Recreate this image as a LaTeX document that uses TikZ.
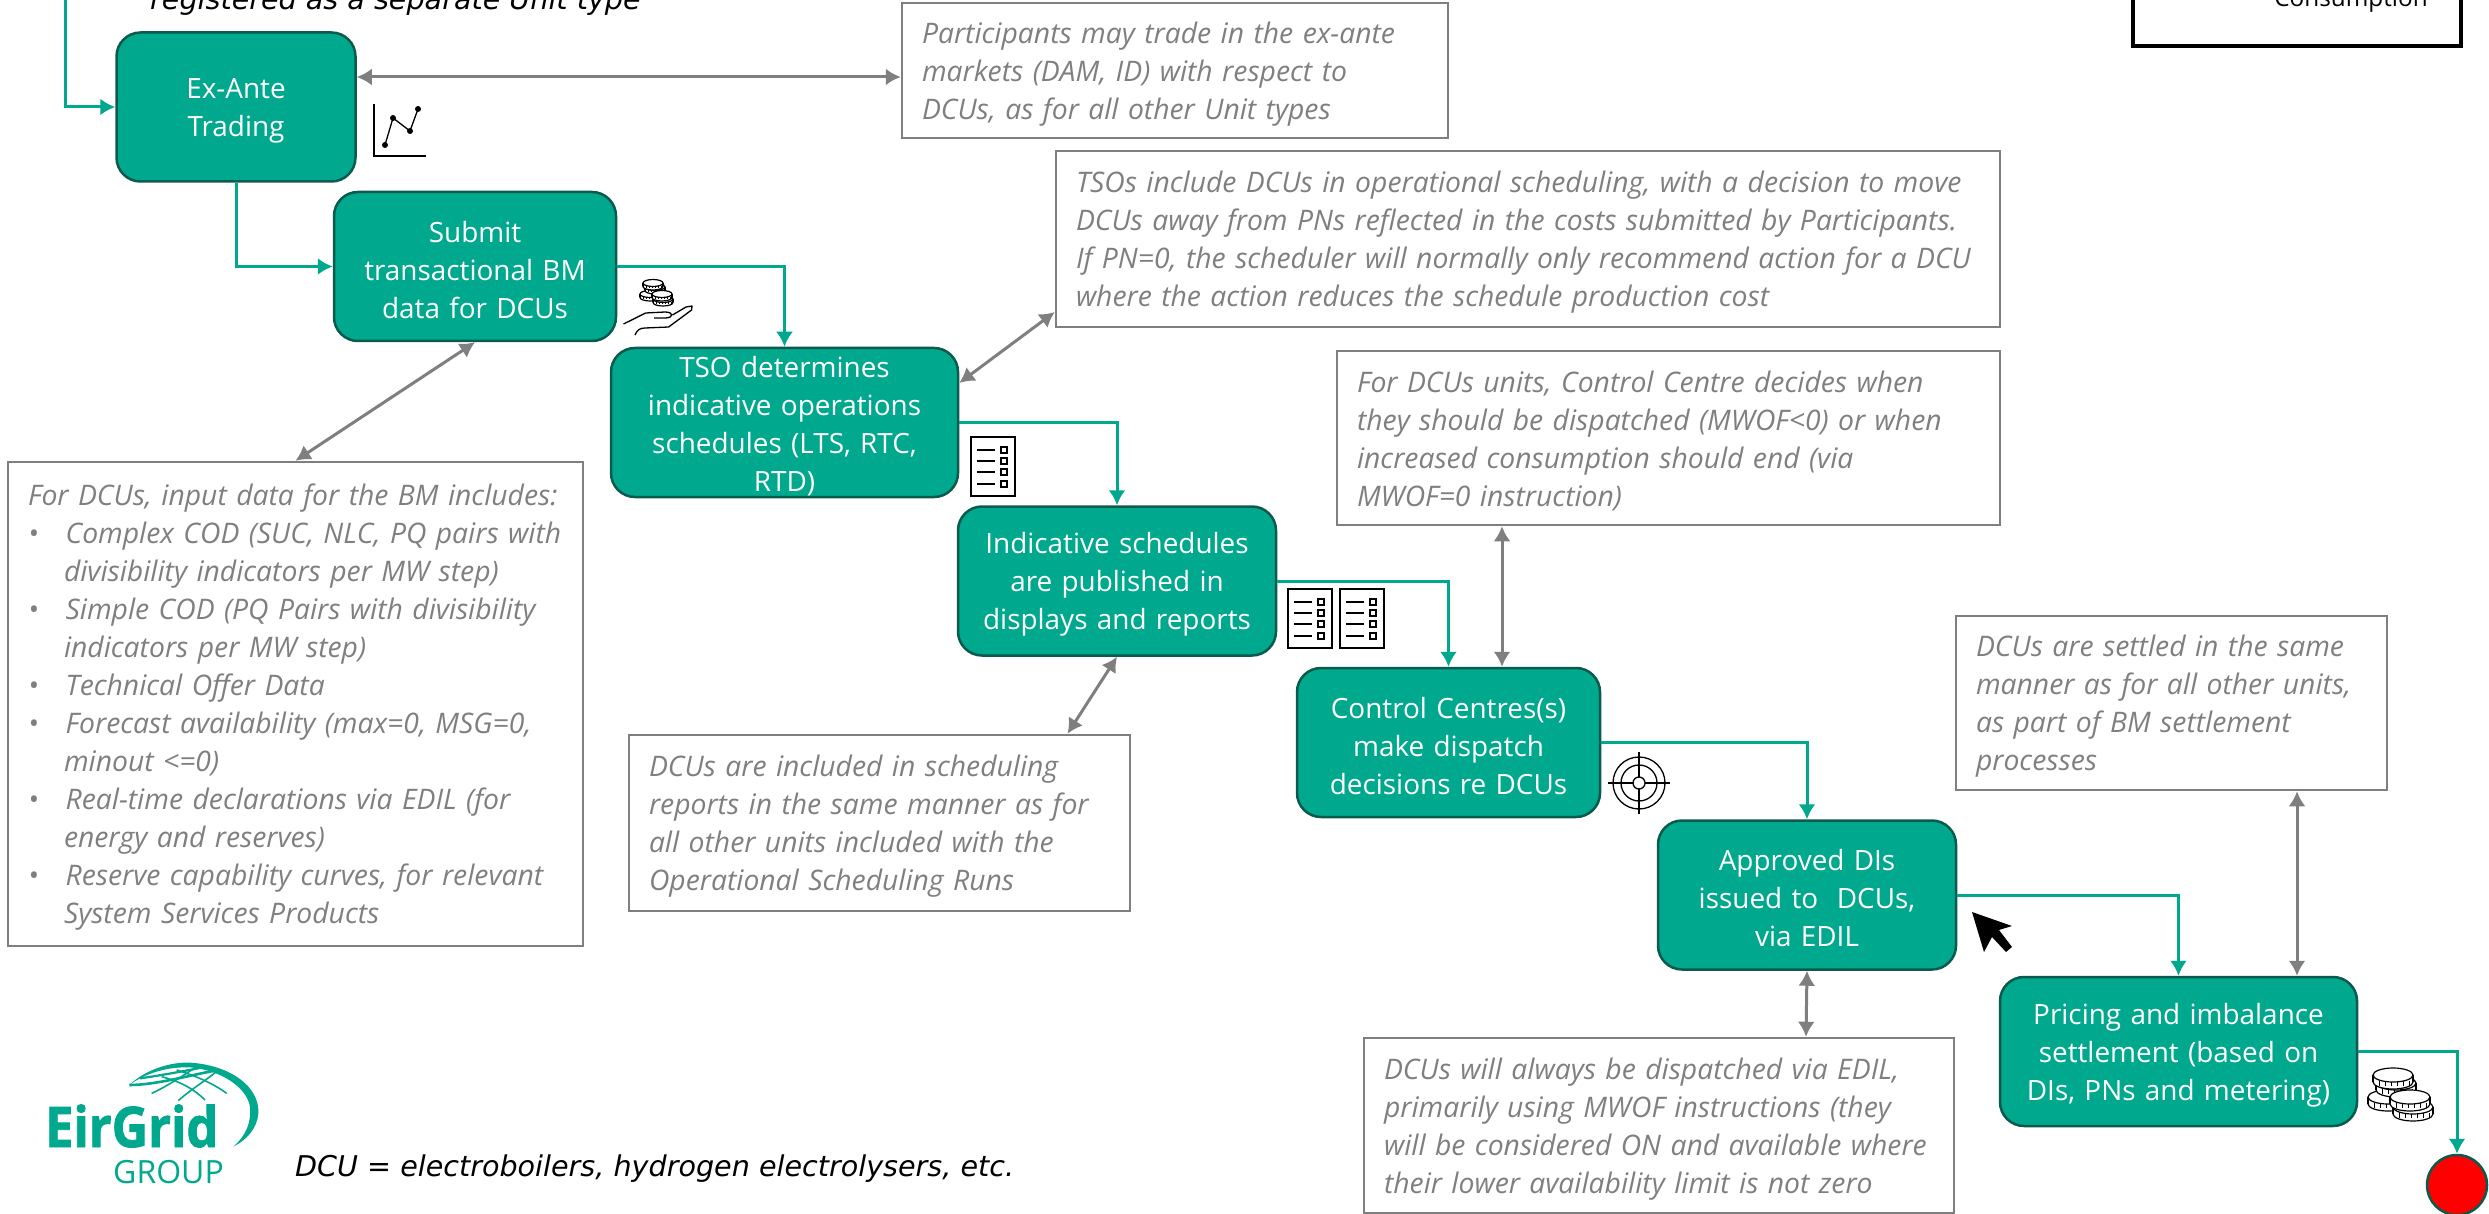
\documentclass[tikz,border=0pt]{standalone}
\usepackage{fontspec}
\setmainfont{Open Sans}
\newfontfamily\capfont{DejaVu Sans}
\newfontfamily\logofont{Open Sans}[BoldFeatures={FakeBold=1.5}]
\usetikzlibrary{arrows.meta}
\definecolor{eirteal}{HTML}{00A88E}
\definecolor{eirdark}{HTML}{0B5A4E}
\definecolor{notegrey}{HTML}{7F7F7F}
\begin{document}
\begin{tikzpicture}[
    x=1pt, y=-1pt,
    flowbox/.style={draw=eirdark, fill=eirteal, line width=2.5pt, rounded corners=24pt, text=white, align=center, inner sep=0pt,
        text width=#1, minimum height=149pt,
        font=\fontsize{27.9}{38}\selectfont, execute at begin node={\rule{0pt}{28pt}}},
    notebox/.style={draw=notegrey, line width=2.5pt, text=notegrey, align=left, inner xsep=20pt, inner ysep=0pt,
        font=\fontsize{28.3}{38}\selectfont\itshape, execute at begin node={\rule{0pt}{28pt}}},
    flowarrow/.style={draw=eirteal, line width=3pt, -{Latex[length=15pt,width=17pt]}},
    notearrow/.style={draw=notegrey, line width=3pt, {Latex[length=15pt,width=17pt]}-{Latex[length=15pt,width=17pt]}},
    caption/.style={anchor=base west, inner sep=0pt, font=\fontsize{28.6}{34}\capfont\itshape},
    coin/.pic={
        \draw[line width=1.2pt, fill=white] (0,7) ellipse [x radius=20pt, y radius=7pt];
        \fill[white] (-20,0) rectangle (20,7);
        \draw[line width=1.2pt] (-20,0) -- (-20,7) (20,0) -- (20,7);
        \foreach \tickx in {-14,-8,-2,4,10,16} {\draw[line width=1pt] (\tickx,6) -- (\tickx,11);}
        \draw[line width=1.2pt, fill=white] (0,0) ellipse [x radius=20pt, y radius=7pt];
    },
    coinpile/.pic={
        \pic at (-5,22) {coin};
        \pic at (3,8) {coin};
        \pic at (0,0) {coin};
        \pic at (20,32) {coin};
        \pic at (17,22) {coin};
    },
    smallcoins/.pic={
        \pic[scale=0.5] at (-3,11) {coin};
        \pic[scale=0.5] at (2,4) {coin};
        \pic[scale=0.5] at (0,0) {coin};
        \pic[scale=0.5] at (10,16) {coin};
        \pic[scale=0.5] at (9,11) {coin};
    },
    listicon/.pic={
        \draw[line width=1.5pt, fill=white] (0,0) rectangle (44,59);
        \foreach \rowy in {13,24,35,47} {
            \draw[line width=1.8pt] (6,\rowy) -- (24,\rowy);
            \draw[line width=1.2pt] (30,\rowy-3) rectangle (36,\rowy+3);
        }
    },
    targeticon/.pic={
        \draw[line width=1.3pt] (0,0) circle (26pt) (0,0) circle (18pt) (0,0) circle (6pt);
        \draw[line width=1.3pt] (-31,0) -- (-6,0) (6,0) -- (31,0) (0,-31) -- (0,-6) (0,6) -- (0,31);
    }
]
    \useasboundingbox (0,0) rectangle (2489,1214);
    \clip (0,0) rectangle (2489,1214);

    % process steps
    \node[flowbox=239pt] (trading) at (236,107) {Ex-Ante\\Trading};
    \node[flowbox=282pt] (submit) at (475,266.5) {Submit\\transactional BM\\data for DCUs};
    \node[flowbox=347pt] (tso) at (784.5,422.5) {TSO determines\\indicative operations\\schedules (LTS, RTC,\\RTD)};
    \node[flowbox=318pt] (published) at (1117,581) {Indicative schedules\\are published in\\displays and reports};
    \node[flowbox=303pt] (control) at (1448.5,742.5) {Control Centres(s)\\make dispatch\\decisions re DCUs};
    \node[flowbox=298pt] (approved) at (1807,895) {Approved DIs\\issued to~~DCUs,\\via EDIL};
    \node[flowbox=357pt] (pricing) at (2178.5,1051.5) {Pricing and imbalance\\settlement (based on\\DIs, PNs and metering)};
    \node[circle, draw=eirdark, fill=red, line width=2.5pt, minimum size=60pt, inner sep=0pt] (finish) at (2457,1185) {};

    % notes
    \node[notebox, text width=506pt, minimum height=135pt] (tradenote) at (1175,70.5) {Participants may trade in the ex-ante\\markets (DAM, ID) with respect to\\DCUs, as for all other Unit types};
    \node[notebox, text width=904pt, minimum height=176pt] (schednote) at (1528,239) {TSOs include DCUs in operational scheduling, with a decision to move\\DCUs away from PNs reflected in the costs submitted by Participants.\\If PN=0, the scheduler will normally only recommend action for a DCU\\where the action reduces the schedule production cost};
    \node[notebox, text width=623pt, minimum height=174pt] (dispatchnote) at (1668.5,438) {For DCUs units, Control Centre decides when\\they should be dispatched (MWOF<0) or when\\increased consumption should end (via\\MWOF=0 instruction)};
    \node[notebox, text width=391pt, minimum height=174pt] (settlenote) at (2171.5,703) {DCUs are settled in the same\\manner as for all other units,\\as part of BM settlement\\processes};
    \node[notebox, text width=461pt, minimum height=176pt] (reportnote) at (879.5,823) {DCUs are included in scheduling\\reports in the same manner as for\\all other units included with the\\Operational Scheduling Runs};
    \node[notebox, text width=550pt, minimum height=175pt] (ediltnote) at (1659,1125.5) {DCUs will always be dispatched via EDIL,\\primarily using MWOF instructions (they\\will be considered ON and available where\\their lower availability limit is not zero};
    \node[notebox, text width=535pt, minimum height=484pt] (inputnote) at (295.5,704) {For DCUs, input data for the BM includes:\\
        \textbullet\hspace{27pt}Complex COD (SUC, NLC, PQ pairs with\\
        \hspace*{36pt}divisibility indicators per MW step)\\
        \textbullet\hspace{27pt}Simple COD (PQ Pairs with divisibility\\
        \hspace*{36pt}indicators per MW step)\\
        \textbullet\hspace{27pt}Technical Offer Data\\
        \textbullet\hspace{27pt}Forecast availability (max=0, MSG=0,\\
        \hspace*{36pt}minout <=0)\\
        \textbullet\hspace{27pt}Real-time declarations via EDIL (for\\
        \hspace*{36pt}energy and reserves)\\
        \textbullet\hspace{27pt}Reserve capability curves, for relevant\\
        \hspace*{36pt}System Services Products};

    % legend box and captions cut by the page edge
    \node[draw=black, line width=3.5pt, minimum width=328pt, minimum height=126pt] (legend) at (2297,-17) {};
    \node[anchor=base, inner sep=0pt, font=\fontsize{24.3}{34}\selectfont] (consumption) at (2351,7) {Consumption};
    \node[caption] (unittype) at (150,10) {registered as a separate Unit type};
    \node[caption] (dcutext) at (295,1176) {DCU = electroboilers, hydrogen electrolysers, etc.};

    % flow connectors
    \coordinate (start) at (65,0);
    \draw[flowarrow] (start) |- (trading.west);
    \draw[flowarrow] (trading.south) |- (submit.west);
    \draw[flowarrow] (submit.east) -| (tso.north);
    \draw[flowarrow] (tso.east) -| (published.north);
    \draw[flowarrow] (published.east) -| (control.north);
    \draw[flowarrow] (control.east) -| (approved.north);
    \draw[flowarrow] (approved.east) -| (pricing.north);
    \draw[flowarrow] (pricing.east) -| (finish.north);

    % note connectors
    \draw[notearrow] ([yshift=30pt]trading.east) -- ([yshift=-6.5pt]tradenote.west);
    \draw[notearrow] (submit.south) -- (inputnote.north);
    \draw[notearrow] ([yshift=39.5pt]tso.east) -- ([yshift=-73pt]schednote.west);
    \draw[notearrow] (published.south) -- ([xshift=188pt]reportnote.north);
    \draw[notearrow] ([xshift=53.5pt]control.north) -- ([xshift=-166.5pt]dispatchnote.south);
    \draw[notearrow] (approved.south) -- ([xshift=147pt]ediltnote.north);
    \draw[notearrow] ([xshift=118.5pt]pricing.north) -- ([xshift=125.5pt]settlenote.south);

    % icons
    \draw[line width=1.3pt] (374,104) |- (426,156);
    \draw[line width=1.3pt] (385,145) -- (393,118) -- (410,131) -- (418,109);
    \foreach \px/\py in {385/145,393/118,410/131,418/109} {\fill (\px,\py) circle (3pt);}
    \pic at (653,283) {smallcoins};
    \draw[line width=1.3pt, line join=round] (623.5,324) -- (645.7,313) -- (665,312) .. controls (674,312) and (674,318) .. (665,318) -- (654,318);
    \draw[line width=1.3pt, line join=round] (635,335) .. controls (637,330) and (640,328) .. (645,328) -- (668.6,327) -- (691.6,310) -- (692,306) -- (686,307) -- (672.5,315);
    \pic at (971,437) {listicon};
    \pic at (1288,589) {listicon};
    \pic at (1340,589) {listicon};
    \pic at (1639,783) {targeticon};
    \fill (1972,912) -- (2012,926) -- (1999,930) -- (2012,947) -- (2006,952) -- (1992,937) -- (1984,952) -- cycle;
    \pic at (2393,1075) {coinpile};

    % logo
    \node[anchor=base west, inner sep=0pt, text=eirteal, font=\fontsize{56}{56}\logofont\bfseries] (eirgrid) at (45,1147) {\scalebox{0.9}[1]{EirGrid}};
    \node[anchor=base east, inner sep=0pt, text=eirteal, font=\fontsize{32}{32}\selectfont] (group) at (224,1183) {GROUP};
    \begin{scope}[shift={(30,1050)}, x=0.3333pt, y=-0.3333pt]
        \fill[eirteal] (298,105) .. controls (350,55) and (430,35) .. (480,38) .. controls (600,45) and (690,110) .. (685,190)
            .. controls (682,235) and (650,270) .. (610,290) .. controls (645,260) and (665,220) .. (660,170)
            .. controls (650,110) and (570,60) .. (480,52) .. controls (400,50) and (340,75) .. cycle;
        \draw[eirteal, line width=2.6pt] (298,105) .. controls (380,105) and (480,75) .. (565,60);
        \draw[eirteal, line width=2.2pt] (330,85) .. controls (400,75) and (480,60) .. (530,50);
        \draw[eirteal, line width=1.6pt] (365,130) .. controls (410,110) and (470,70) .. (500,50);
        \draw[eirteal, line width=1.6pt] (445,152) .. controls (480,120) and (530,90) .. (565,60);
        \draw[eirteal, line width=1.6pt] (590,130) .. controls (550,100) and (490,75) .. (440,60);
        \draw[eirteal, line width=1.6pt] (525,150) .. controls (490,115) and (450,95) .. (395,80);
    \end{scope}
\end{tikzpicture}
\end{document}
